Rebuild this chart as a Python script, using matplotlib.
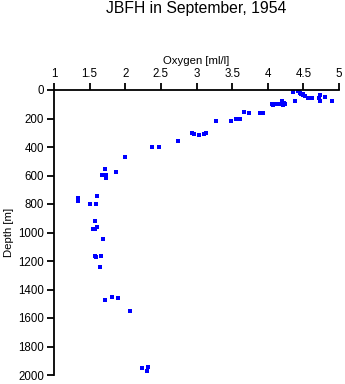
import matplotlib
matplotlib.use("Agg")
import matplotlib.pyplot as plt

plt.rcParams['font.family'] = ['Liberation Sans', 'DejaVu Sans']

oxygen = [4.36, 4.42, 4.45, 4.47, 4.44, 4.50, 4.52, 4.49, 4.56, 4.62, 4.74, 4.72, 4.81,
          4.74, 4.90, 4.38, 4.06, 4.12, 4.18, 4.22, 4.24, 4.20, 4.23,
          4.08, 4.14, 3.89, 3.93, 3.66, 3.73, 3.56, 3.61, 3.49, 3.28,
          3.14, 3.11, 3.04, 2.97, 2.93, 2.745, 2.48, 2.37, 1.99,
          1.87, 1.71, 1.68, 1.73, 1.73, 1.61, 1.34, 1.34, 1.51, 1.59,
          1.57, 1.61, 1.55, 1.58, 1.69, 1.57, 1.59, 1.66, 1.65,
          1.72, 1.82, 1.90, 2.07, 2.23, 2.32, 2.30]
depth = [14, 5, 20, 30, 10, 25, 40, 35, 54, 54, 33, 54, 50,
         77, 79, 79, 100, 100, 100, 105, 100, 80, 90,
         105, 100, 164, 164, 154, 159, 206, 206, 220, 220,
         302, 306, 318, 311, 302, 358, 402, 402, 472,
         578, 556, 599, 594, 615, 744, 758, 782, 800, 802,
         919, 964, 975, 975, 1048, 1165, 1174, 1165, 1244,
         1474, 1455, 1462, 1549, 1953, 1946, 1970]

fig = plt.figure(figsize=(3.45, 3.84), dpi=100)
ax = fig.add_axes([54/345, 1-375/384, (339-54)/345, (375-90)/384])
ax.plot(oxygen, depth, linestyle='none', marker='s', markersize=2.2,
        color='#0000ff', markeredgewidth=0)
ax.set_xlim(1, 5)
ax.set_ylim(2000, 0)
ax.xaxis.tick_top()
ax.xaxis.set_label_position('top')
ax.set_xticks([1, 1.5, 2, 2.5, 3, 3.5, 4, 4.5, 5])
ax.set_xticklabels(['1', '1.5', '2', '2.5', '3', '3.5', '4', '4.5', '5'])
ax.set_yticks(range(0, 2001, 200))
for s in ['right', 'bottom']:
    ax.spines[s].set_visible(False)
for s in ['left', 'top']:
    ax.spines[s].set_linewidth(1.3)
ax.tick_params(axis='both', direction='out', length=5, width=1.3, labelsize=8.3, pad=2)
ax.set_xlabel('Oxygen [ml/l]', fontsize=8.2, labelpad=3)
ax.set_ylabel('Depth [m]', fontsize=8.2, labelpad=3)
fig.text(196.5/345, 1-9/384, 'JBFH in September, 1954', ha='center', va='center', fontsize=11.3)
fig.savefig('out.png', dpi=100)
